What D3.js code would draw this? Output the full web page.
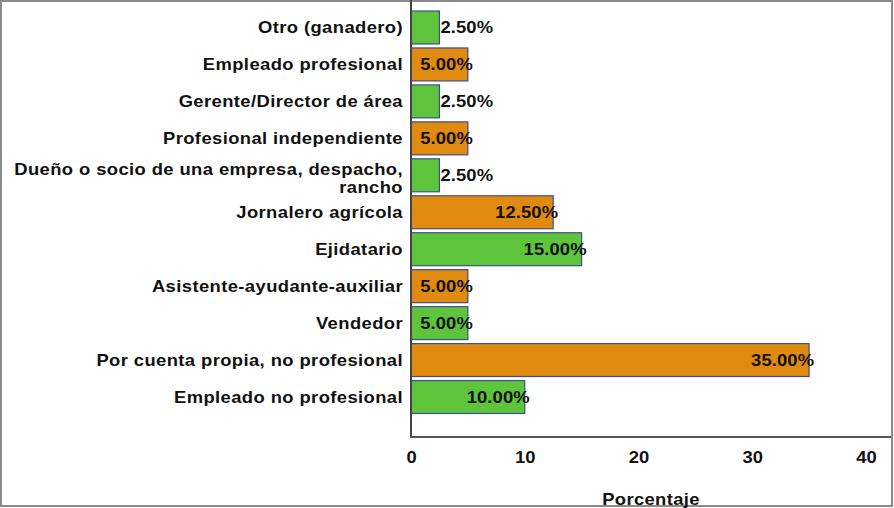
<!DOCTYPE html>
<html>
<head>
<meta charset="utf-8">
<script src="https://cdn.jsdelivr.net/npm/d3@7"></script>
<style>
  body { margin: 0; background: #fff; }
  svg text { font-family: "Liberation Sans", Arial, sans-serif; font-weight: bold; }
</style>
</head>
<body>
<svg width="894" height="508"></svg>
<script>
// categories top to bottom, as in the chart
const categories = [
  "Otro (ganadero)",
  "Empleado profesional",
  "Gerente/Director de área",
  "Profesional independiente",
  "Dueño o socio de una empresa, despacho,|rancho",
  "Jornalero agrícola",
  "Ejidatario",
  "Asistente-ayudante-auxiliar",
  "Vendedor",
  "Por cuenta propia, no profesional",
  "Empleado no profesional"
]
const values = [2.5, 5, 2.5, 5, 2.5, 12.5, 15, 5, 5, 35, 10]
const barColors = ["g", "o", "g", "o", "g", "o", "g", "o", "g", "o", "g"]
const xTicks = [0, 10, 20, 30, 40]
const xTitle = "Porcentaje"

const svg = d3.select("svg")
const colorOf = { g: "#5ec43b", o: "#e08a10" }
const SX = 1.15  // the original text is drawn a bit wide

// outer frame
svg.append("rect")
  .attr("x", 1).attr("y", 1).attr("width", 891).attr("height", 505)
  .attr("fill", "none").attr("stroke", "#8a8a8a").attr("stroke-width", 2)

const x = d3.scaleLinear().domain([0, 40]).range([411, 866])
const y = d3.scaleBand().domain(categories).range([9, 415.5])
  .paddingInner(0.108).paddingOuter(0.054)

// bars
svg.append("g")
  .selectAll("rect")
  .data(categories)
  .enter().append("rect")
  .attr("x", x(0))
  .attr("y", d => y(d))
  .attr("width", (d, i) => x(values[i]) - x(0))
  .attr("height", y.bandwidth())
  .attr("fill", (d, i) => colorOf[barColors[i]])
  .attr("stroke", "#3d4f8f")
  .attr("stroke-width", 1.2)

// value labels
svg.append("g")
  .selectAll("g")
  .data(categories)
  .enter().append("g")
  .attr("transform", (d, i) => {
    const px = values[i] < 5 ? x(values[i]) + 1 : x(values[i]) + 5
    return "translate(" + px + "," + (y(d) + y.bandwidth() / 2) + ") scale(" + SX + ",1)"
  })
  .append("text")
  .attr("dy", "0.36em")
  .attr("text-anchor", (d, i) => values[i] < 5 ? "start" : "end")
  .attr("font-size", 16)
  .attr("letter-spacing", 0.1)
  .attr("fill", "#111")
  .text((d, i) => values[i].toFixed(2) + "%")

// category labels
const lab = svg.append("g")
  .selectAll("g")
  .data(categories)
  .enter().append("g")
  .attr("transform", d => "translate(403," + (y(d) + y.bandwidth() / 2) + ") scale(" + SX + ",1)")
  .append("text")
  .attr("text-anchor", "end")
  .attr("font-size", 16)
  .attr("letter-spacing", 0.35)
  .attr("fill", "#111")
lab.each(function(d) {
  const parts = d.split("|")
  const t = d3.select(this)
  parts.forEach((p, k) => {
    t.append("tspan")
      .attr("x", 0)
      .attr("dy", k == 0 ? (0.36 - (parts.length - 1) * 0.35) + "em" : "1.1em")
      .text(p)
  })
})

// axes lines
svg.append("line")
  .attr("x1", x(0)).attr("x2", x(0)).attr("y1", 0).attr("y2", 437)
  .attr("stroke", "#444").attr("stroke-width", 2)
svg.append("line")
  .attr("x1", x(0) - 1).attr("x2", 891).attr("y1", 437).attr("y2", 437)
  .attr("stroke", "#555").attr("stroke-width", 2)

// x axis ticks
const xAxis = d3.axisBottom(x).tickValues(xTicks).tickSize(0).tickPadding(0)
const gx = svg.append("g").attr("transform", "translate(0,452)").call(xAxis)
gx.select(".domain").remove()
gx.selectAll("text")
  .attr("transform", "scale(" + SX + ",1)")
  .attr("font-size", 16)
  .attr("font-family", "Liberation Sans, Arial, sans-serif")
  .attr("font-weight", "bold")
  .attr("fill", "#111")

svg.append("g")
  .attr("transform", "translate(" + ((x(0) + 891) / 2) + ",505) scale(" + SX + ",1)")
  .append("text")
  .attr("text-anchor", "middle")
  .attr("font-size", 16)
  .attr("letter-spacing", 0.3)
  .attr("fill", "#111")
  .text(xTitle)
</script>
</body>
</html>
